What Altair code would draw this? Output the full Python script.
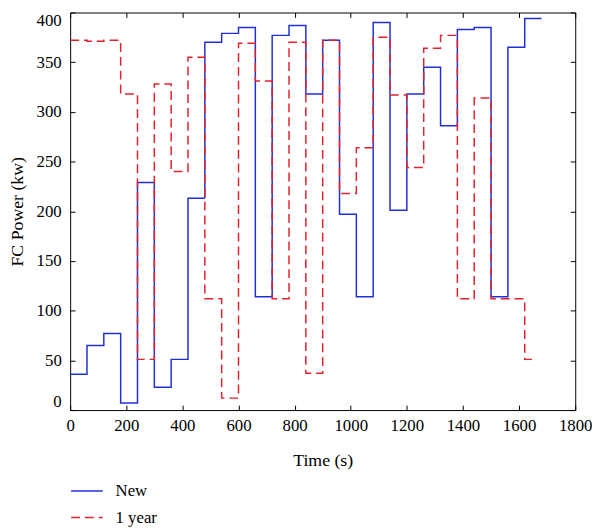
import altair as alt
import pandas as pd

# step start times (s)
times = [0, 60, 120, 180, 240, 300, 360, 420, 480, 540, 600, 660, 720, 780,
         840, 900, 960, 1020, 1080, 1140, 1200, 1260, 1320, 1380, 1440, 1500,
         1560, 1620]
new_vals = [36, 65, 77, 7, 229, 23, 51, 213, 370, 379, 385, 114, 377, 387,
            318, 372, 197, 114, 390, 201, 318, 345, 286, 383, 385, 114, 365, 394]
year_vals = [372, 371, 372, 318, 51, 328, 240, 355, 112, 12, 369, 331, 112, 370,
             37, 372, 218, 264, 375, 317, 244, 364, 377, 112, 314, 112, 112, 51]
new_end = 1680
year_end = 1650

series_names = ["New", "1 year"]
x_ticks = [0, 200, 400, 600, 800, 1000, 1200, 1400, 1600, 1800]
y_ticks = [0, 50, 100, 150, 200, 250, 300, 350, 400]

rows = []
for t, v in zip(times, new_vals):
    rows.append({"t": t, "v": v, "s": "New"})
rows.append({"t": new_end, "v": new_vals[-1], "s": "New"})
for t, v in zip(times, year_vals):
    rows.append({"t": t, "v": v, "s": "1 year"})
rows.append({"t": year_end, "v": year_vals[-1], "s": "1 year"})
df = pd.DataFrame(rows)

FONT = "Liberation Serif"
xs = alt.Scale(domain=[0, 1800], nice=False)
ys = alt.Scale(domain=[0, 400], nice=False)

def legend():
    return alt.Legend(title=None, orient="none", legendX=0, legendY=468,
                      symbolType="stroke", symbolSize=1024,
                      symbolStrokeWidth=1.5, labelFontSize=17,
                      labelFont=FONT, labelOffset=12, rowPadding=2,
                      padding=0, labelColor="black")

lines = alt.Chart(df).mark_line(interpolate="step-after", strokeWidth=1.5).encode(
    x=alt.X("t:Q", scale=xs, axis=alt.Axis(
        orient="bottom", values=x_ticks, format="d", offset=-5, tickSize=5, domain=False,
        grid=False, labelPadding=8, labelFlush=False, labelOverlap=False,
        labelFont=FONT, labelFontSize=17, labelColor="black",
        titleFont=FONT, titleFontSize=18, titleColor="black", titleFontWeight="normal",
        title="Time (s)", titlePadding=18, tickColor="black")),
    y=alt.Y("v:Q", scale=ys, axis=alt.Axis(
        orient="left", values=y_ticks, format="d", offset=-5, tickSize=5, domain=False,
        grid=False, labelPadding=9, labelFlush=True, labelOverlap=False,
        labelFont=FONT, labelFontSize=17, labelColor="black",
        titleFont=FONT, titleFontSize=18, titleColor="black", titleFontWeight="normal",
        title="FC Power (kw)", titlePadding=10, tickColor="black")),
    color=alt.Color("s:N", scale=alt.Scale(domain=series_names, range=["#1f2fd8", "#e3212b"]),
                    legend=legend()),
    strokeDash=alt.StrokeDash("s:N", scale=alt.Scale(domain=series_names, range=[[1, 0], [9, 5]]),
                              legend=legend()),
)

ticks_layer = alt.Chart(df).mark_point(opacity=0).encode(
    x=alt.X("t:Q", scale=xs, axis=alt.Axis(
        orient="top", values=x_ticks, offset=-5, tickSize=5, domain=False,
        grid=False, labels=False, title=None, tickColor="black")),
    y=alt.Y("v:Q", scale=ys, axis=alt.Axis(
        orient="right", values=y_ticks, offset=-5, tickSize=5, domain=False,
        grid=False, labels=False, title=None, tickColor="black")),
)

chart = alt.layer(lines, ticks_layer).resolve_axis(
    x="independent", y="independent"
).properties(
    width=512, height=403, padding={"left": 0, "top": 0, "right": 0, "bottom": 0}
).configure(
    font=FONT
).configure_axis(
    labelFont=FONT, titleFont=FONT
).configure_legend(
    labelFont=FONT
).configure_view(
    stroke="black", strokeWidth=1
)

chart.save("out.html", embed_options={"renderer": "svg", "actions": False})
